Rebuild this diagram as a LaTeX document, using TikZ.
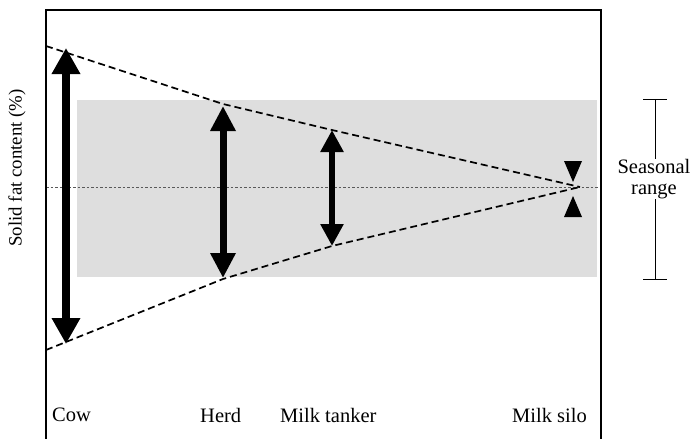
\documentclass[tikz,border=0pt]{standalone}
\usepackage{fontspec}
\setmainfont{Liberation Serif}
\usetikzlibrary{arrows.meta}
\tikzset{
  lbl/.style={font=\fontsize{20.5}{23}\selectfont, inner sep=0pt},
  env/.style={line width=1.7pt, dash pattern=on 7pt off 4pt},
  mid/.style={line width=0.9pt, dash pattern=on 2.5pt off 2pt, black!65},
}
\begin{document}
\begin{tikzpicture}[x=1pt,y=-1pt]
\useasboundingbox (0,0) rectangle (694,439);
% seasonal band
\fill[black!13] (77,100) rectangle (597,277);
% center line
\coordinate (cl) at (46,187);
\coordinate (cr) at (598,187);
\draw[mid] (cl) -- (cr);
% envelope points
\coordinate (t0) at (46,46);
\coordinate (t1) at (223,104);
\coordinate (t2) at (332,130);
\coordinate (m) at (580,187);
\coordinate (b0) at (46,350);
\coordinate (b1) at (223,279);
\coordinate (b2) at (332,246);
\draw[env] (t0) -- (t1) -- (t2) -- (m);
\draw[env] (b0) -- (b1) -- (b2) -- (m);
% arrows
\coordinate (cowT) at (66,48);  \coordinate (cowB) at (66,344);
\coordinate (herdT) at (223,106); \coordinate (herdB) at (223,278);
\coordinate (tankT) at (332,130); \coordinate (tankB) at (332,246);
\draw[line width=8pt, {Triangle[width=27pt,length=26pt]}-{Triangle[width=27pt,length=26pt]}] (cowT) -- (cowB);
\draw[line width=7pt, {Triangle[width=24pt,length=25pt]}-{Triangle[width=24pt,length=25pt]}] (herdT) -- (herdB);
\draw[line width=6pt, {Triangle[width=22pt,length=22pt]}-{Triangle[width=22pt,length=22pt]}] (tankT) -- (tankB);
% silo: inward arrows
\coordinate (s1e) at (573,182);
\coordinate (s2e) at (573,196);
\fill (564,161) -- (582,161) -- (s1e) -- cycle;
\fill (564,217) -- (582,217) -- (s2e) -- cycle;
% frame (open at the bottom edge of the picture)
\draw[line width=1.6pt] (46,445) -- (46,10) -- (601,10) -- (601,445);
% axis label
\node[font=\fontsize{18.8}{21}\selectfont, rotate=90, inner sep=0pt] (ylab) at (17,168) {Solid fat content (\%)};
% bottom labels
\node[lbl, anchor=west] (cow) at (52,415) {Cow};
\node[lbl, anchor=west] (herd) at (200,415) {Herd};
\node[lbl, anchor=west] (tank) at (280,415) {Milk tanker};
\node[lbl, anchor=east] (silo) at (587,415) {Milk silo};
% seasonal range bracket
\node[lbl, align=center] (sr) at (654,179) {Seasonal\\[-2pt]range};
\coordinate (rt) at (655,99);
\coordinate (rb) at (655,279);
\draw[line width=0.8pt] (643,99) -- (667,99);
\draw[line width=0.8pt] (643,279) -- (667,279);
\draw[line width=0.8pt] (rt) -- (sr.north -| rt);
\draw[line width=0.8pt] (rb) -- (sr.south -| rb);
\end{tikzpicture}
\end{document}
